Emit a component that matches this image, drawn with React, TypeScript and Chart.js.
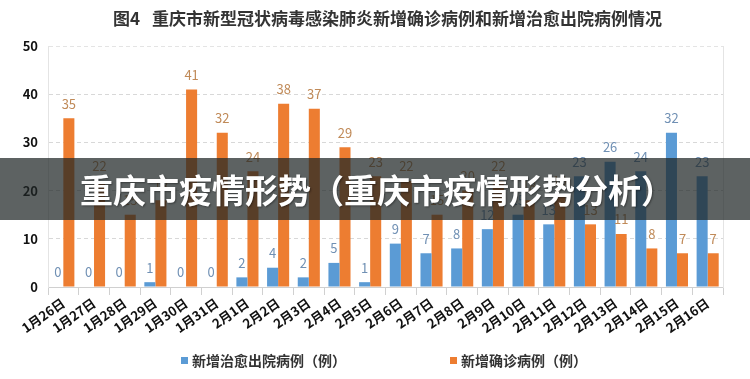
import React, { useEffect, useRef } from "react";
import { Chart, registerables } from "chart.js";

Chart.register(...registerables);

const categories = [
  "1月26日", "1月27日", "1月28日", "1月29日", "1月30日", "1月31日",
  "2月1日", "2月2日", "2月3日", "2月4日", "2月5日", "2月6日", "2月7日",
  "2月8日", "2月9日", "2月10日", "2月11日", "2月12日", "2月13日",
  "2月14日", "2月15日", "2月16日",
];
const discharged = [0, 0, 0, 1, 0, 0, 2, 4, 2, 5, 1, 9, 7, 8, 12, 15, 13, 23, 26, 24, 32, 23];
const confirmed = [35, 22, 15, 18, 41, 32, 24, 38, 37, 29, 23, 22, 15, 20, 22, 18, 19, 13, 11, 8, 7, 7];
const yTicks = [0, 10, 20, 30, 40, 50];

const seriesNames = ["新增治愈出院病例（例）", "新增确诊病例（例）"];
const titleFig = "图4";
const titleText = "重庆市新型冠状病毒感染肺炎新增确诊病例和新增治愈出院病例情况";
const bannerText = "重庆市疫情形势（重庆市疫情形势分析）";

const FONT = "'Noto Sans CJK SC', 'Noto Sans', sans-serif";
const BLUE = "#5b9bd5";
const ORANGE = "#ed7d31";
const labelColors = ["#7090b4", "#c08a58"];

const valueLabels = {
  id: "valueLabels",
  afterDatasetsDraw(chart: any) {
    const ctx = chart.ctx;
    ctx.save();
    ctx.font = `13px ${FONT}`;
    ctx.textAlign = "center";
    ctx.textBaseline = "bottom";
    chart.data.datasets.forEach((ds: any, i: number) => {
      const meta = chart.getDatasetMeta(i);
      ctx.fillStyle = labelColors[i];
      meta.data.forEach((bar: any, j: number) => {
        ctx.fillText(String(ds.data[j]), bar.x, bar.y - 8);
      });
    });
    ctx.restore();
  },
};

export default function App() {
  const ref = useRef<HTMLCanvasElement | null>(null);
  useEffect(() => {
    if (!ref.current) return;
    const chart = new Chart(ref.current, {
      type: "bar",
      data: {
        labels: categories,
        datasets: [
          { label: seriesNames[0], data: discharged, backgroundColor: BLUE, categoryPercentage: 0.72, barPercentage: 1 },
          { label: seriesNames[1], data: confirmed, backgroundColor: ORANGE, categoryPercentage: 0.72, barPercentage: 1 },
        ],
      },
      options: {
        animation: false,
        responsive: false,
        maintainAspectRatio: false,
        layout: { padding: { left: 8, right: 27, top: 46, bottom: 0 } },
        plugins: {
          legend: { display: false },
          title: { display: false },
          tooltip: { enabled: false },
        },
        scales: {
          x: {
            afterFit: (s: any) => { s.height = 92; },
            grid: { drawOnChartArea: false, color: "#d0d0d0", tickLength: 8, offset: true },
            border: { color: "#d0d0d0" },
            ticks: {
              minRotation: 35, maxRotation: 35, autoSkip: false,
              color: "#111", font: { family: FONT, size: 13, weight: "bold" }, padding: 0,
            },
          },
          y: {
            min: 0, max: 50,
            afterFit: (s: any) => { s.width = 40; },
            afterBuildTicks: (s: any) => { s.ticks = yTicks.map((v) => ({ value: v })); },
            grid: { color: (c: any) => (c.tick && c.tick.value === 50 ? "#e4e4e4" : "#d8d8d8"), drawTicks: false },
            border: { color: "#e4e4e4", dash: [4, 3] },
            ticks: { color: "#111", font: { family: FONT, size: 13, weight: "bold" }, padding: 10 },
          },
          y2: {
            position: "right", min: 0, max: 50, display: true,
            afterFit: (s: any) => { s.width = 0; },
            grid: { display: false },
            border: { color: "#e4e4e4" },
            ticks: { display: false },
          },
        },
      },
      plugins: [valueLabels],
    } as any);
    return () => chart.destroy();
  }, []);

  return (
    <div style={{ position: "fixed", left: 0, top: 0, width: 750, height: 379, background: "#fff", overflow: "hidden" }}>
      <canvas ref={ref} width={750} height={379} style={{ position: "absolute", left: 0, top: 0 }} />
      <div style={{ position: "absolute", left: 113, top: 5, fontFamily: FONT, fontWeight: 700, fontSize: 17, color: "#333", whiteSpace: "nowrap" }}>
        <span style={{ marginRight: 12 }}>{titleFig}</span>
        <span>{titleText}</span>
      </div>
      <div style={{ position: "absolute", left: 0, top: 158, width: 750, height: 62, background: "rgba(30,38,38,0.72)" }} />
      <div style={{ position: "absolute", left: 80, top: 158, height: 62, lineHeight: "62px", fontFamily: FONT, fontWeight: 700, fontSize: 33, color: "#fff", whiteSpace: "nowrap", textShadow: "1px 1px 2px rgba(0,0,0,0.4)" }}>
        {bannerText}
      </div>
      <div style={{ position: "absolute", left: 181, top: 350, display: "flex", alignItems: "center", fontFamily: FONT, fontSize: 14, fontWeight: 700, color: "#333", whiteSpace: "nowrap" }}>
        <span style={{ display: "inline-block", width: 7, height: 7, background: BLUE, marginRight: 4 }} />
        {seriesNames[0]}
      </div>
      <div style={{ position: "absolute", left: 450, top: 350, display: "flex", alignItems: "center", fontFamily: FONT, fontSize: 14, fontWeight: 700, color: "#333", whiteSpace: "nowrap" }}>
        <span style={{ display: "inline-block", width: 7, height: 7, background: ORANGE, marginRight: 4 }} />
        {seriesNames[1]}
      </div>
    </div>
  );
}
